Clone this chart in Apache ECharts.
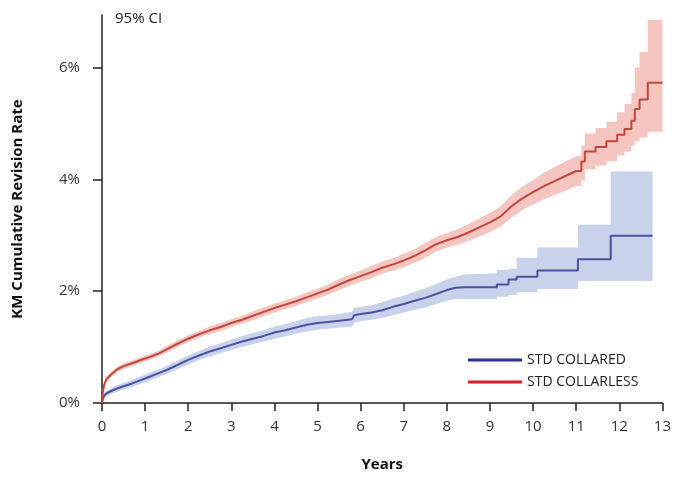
<!DOCTYPE html>
<html>
<head>
<meta charset="utf-8">
<script src="https://cdn.jsdelivr.net/npm/echarts@6/dist/echarts.min.js"></script>
<style>
html,body{margin:0;padding:0;background:#fff;}
#main{width:674px;height:477px;}
</style>
</head>
<body>
<div id="main"></div>
<script>
// KM curves, years vs cumulative revision %; repeated years = a step
var yTicks = [0, 2, 4, 6];

var redT   = [0,0.02,0.05,0.1,0.2,0.35,0.5,0.7,0.9,1.1,1.3,1.5,1.75,2.0,2.25,2.5,2.75,3.0,3.25,3.5,3.75,4.0,4.25,4.5,4.75,5.0,5.25,5.5,5.75,6.0,6.25,6.5,6.75,7.0,7.25,7.5,7.75,8.0,8.25,8.5,8.75,9.0,9.25,9.5,9.75,10.0,10.25,10.5,10.75,11.0,11.12,11.12,11.2,11.2,11.45,11.45,11.7,11.7,11.95,11.95,12.12,12.12,12.28,12.28,12.36,12.36,12.47,12.47,12.66,12.66,13.0];
var redVal = [0,0.2,0.33,0.42,0.5,0.6,0.66,0.71,0.77,0.82,0.88,0.96,1.06,1.15,1.23,1.3,1.36,1.43,1.49,1.56,1.63,1.7,1.76,1.82,1.89,1.96,2.03,2.12,2.2,2.27,2.34,2.42,2.48,2.55,2.63,2.73,2.84,2.91,2.97,3.05,3.14,3.23,3.34,3.52,3.66,3.77,3.88,3.97,4.06,4.15,4.15,4.32,4.32,4.5,4.5,4.58,4.58,4.68,4.68,4.8,4.8,4.9,4.9,5.05,5.05,5.26,5.26,5.43,5.43,5.73,5.73];
var redLo  = [0,0.15,0.28,0.37,0.45,0.55,0.61,0.66,0.72,0.77,0.83,0.9,1.0,1.09,1.17,1.23,1.29,1.36,1.42,1.48,1.55,1.62,1.68,1.74,1.8,1.87,1.94,2.02,2.1,2.17,2.23,2.31,2.37,2.43,2.51,2.6,2.71,2.78,2.83,2.9,2.98,3.06,3.16,3.32,3.45,3.55,3.64,3.72,3.8,3.88,3.88,3.98,3.98,4.18,4.18,4.25,4.25,4.33,4.33,4.43,4.43,4.5,4.5,4.6,4.6,4.68,4.68,4.75,4.75,4.85,4.85];
var redHi  = [0,0.25,0.38,0.47,0.55,0.65,0.71,0.76,0.82,0.87,0.93,1.02,1.12,1.21,1.29,1.37,1.43,1.5,1.56,1.64,1.71,1.78,1.84,1.9,1.98,2.05,2.12,2.22,2.3,2.37,2.45,2.53,2.59,2.67,2.75,2.86,2.97,3.04,3.11,3.2,3.3,3.4,3.52,3.72,3.87,3.99,4.12,4.22,4.32,4.42,4.42,4.6,4.6,4.82,4.82,4.92,4.92,5.03,5.03,5.2,5.2,5.35,5.35,5.55,5.55,6.0,6.0,6.28,6.28,6.85,6.85];

var blueT   = [0,0.02,0.05,0.1,0.2,0.35,0.5,0.7,0.9,1.1,1.3,1.5,1.75,2.0,2.25,2.5,2.75,3.0,3.25,3.5,3.75,4.0,4.25,4.5,4.75,5.0,5.25,5.5,5.8,5.85,6.0,6.25,6.5,6.75,7.0,7.25,7.5,7.75,8.0,8.2,8.4,9.16,9.16,9.43,9.43,9.62,9.62,10.1,10.1,11.04,11.04,11.8,11.8,12.77];
var blueVal = [0,0.08,0.13,0.17,0.21,0.26,0.3,0.35,0.41,0.47,0.53,0.59,0.68,0.77,0.85,0.92,0.98,1.04,1.1,1.15,1.2,1.26,1.3,1.35,1.4,1.43,1.45,1.47,1.5,1.57,1.59,1.62,1.66,1.72,1.77,1.83,1.88,1.95,2.02,2.06,2.07,2.07,2.12,2.12,2.21,2.21,2.26,2.26,2.37,2.37,2.57,2.57,2.99,2.99];
var blueLo  = [0,0.04,0.08,0.12,0.16,0.2,0.24,0.29,0.34,0.4,0.46,0.52,0.6,0.69,0.77,0.83,0.89,0.95,1.0,1.05,1.1,1.15,1.19,1.24,1.28,1.31,1.33,1.35,1.37,1.44,1.46,1.49,1.52,1.57,1.62,1.67,1.71,1.77,1.83,1.86,1.86,1.86,1.9,1.9,1.93,1.93,1.98,1.98,2.04,2.04,2.18,2.18,2.18,2.18];
var blueHi  = [0,0.12,0.18,0.22,0.26,0.32,0.36,0.41,0.48,0.54,0.6,0.66,0.76,0.85,0.93,1.01,1.07,1.13,1.2,1.25,1.3,1.37,1.41,1.46,1.52,1.55,1.57,1.59,1.63,1.7,1.72,1.75,1.8,1.87,1.92,1.99,2.05,2.13,2.21,2.26,2.3,2.32,2.38,2.38,2.4,2.4,2.6,2.6,2.78,2.78,3.19,3.19,4.14,4.14];

function pairs(t, v){
	var out = [];
	for(var i=0;i<t.length;i++) out.push([t[i], v[i]]);
	return out;
}

// CI band as one polygon: upper edge forward, lower edge back
function bandSeries(t, lo, hi, color){
	return {
		type:'custom', silent:true, clip:true, z:1,
		data:[[t[0], lo[0]]],
		renderItem:function(params, api){
			var pts = [];
			for(var i=0;i<t.length;i++) pts.push(api.coord([t[i], hi[i]]));
			for(var j=t.length-1;j>=0;j--) pts.push(api.coord([t[j], lo[j]]));
			return {type:'polygon', shape:{points:pts}, style:{fill:color}};
		}
	};
}

var font = '"Open Sans", "Noto Sans", sans-serif';
var chart = echarts.init(document.getElementById('main'));

var option = {
	animation:false,
	backgroundColor:'#fff',
	grid:{left:102, right:7, top:15, bottom:68},
	graphic:[{
		type:'text', left:115, top:11,
		style:{text:'95% CI', font:'15px ' + font, fill:'#222'}
	}],
	legend:{
		orient:'vertical',
		left:463, top:348,
		itemWidth:54, itemHeight:3, itemGap:8,
		icon:'rect',
		textStyle:{fontFamily:font, fontSize:14, color:'#222'},
		data:[
			{name:'STD COLLARED', itemStyle:{color:'#2e3192'}},
			{name:'STD COLLARLESS', itemStyle:{color:'#e8192c'}}
		]
	},
	xAxis:{
		type:'value', min:0, max:13, interval:1,
		name:'Years', nameLocation:'middle', nameGap:54,
		nameTextStyle:{fontFamily:font, fontSize:15, fontWeight:'bold', color:'#111'},
		axisLine:{lineStyle:{color:'#222', width:1.5}},
		axisTick:{length:8, lineStyle:{color:'#222', width:1.5}},
		axisLabel:{margin:16, fontFamily:font, fontSize:15, color:'#333'},
		splitLine:{show:false}
	},
	yAxis:{
		type:'value', min:0, max:6.94,
		name:'KM Cumulative Revision Rate', nameLocation:'middle', nameGap:77,
		nameTextStyle:{fontFamily:font, fontSize:15, fontWeight:'bold', color:'#111'},
		axisLine:{show:true, lineStyle:{color:'#222', width:1.5}},
		axisTick:{show:true, length:9, customValues:yTicks, lineStyle:{color:'#222', width:1.5}},
		axisLabel:{margin:22, fontFamily:font, fontSize:15, color:'#333', customValues:yTicks,
			formatter:function(v){ return v + '%'; }},
		splitLine:{show:false}
	},
	series:[
		bandSeries(redT, redLo, redHi, '#f4c6bf'),
		bandSeries(blueT, blueLo, blueHi, '#c8d2ea'),
		{name:'STD COLLARED', type:'line', symbol:'none', z:5,
			lineStyle:{color:'#4a52a2', width:2}, itemStyle:{color:'#4a52a2'}, data:pairs(blueT, blueVal)},
		{name:'STD COLLARLESS', type:'line', symbol:'none', z:5,
			lineStyle:{color:'#c4463f', width:2}, itemStyle:{color:'#c4463f'}, data:pairs(redT, redVal)}
	]
};
chart.setOption(option);
</script>
</body>
</html>
